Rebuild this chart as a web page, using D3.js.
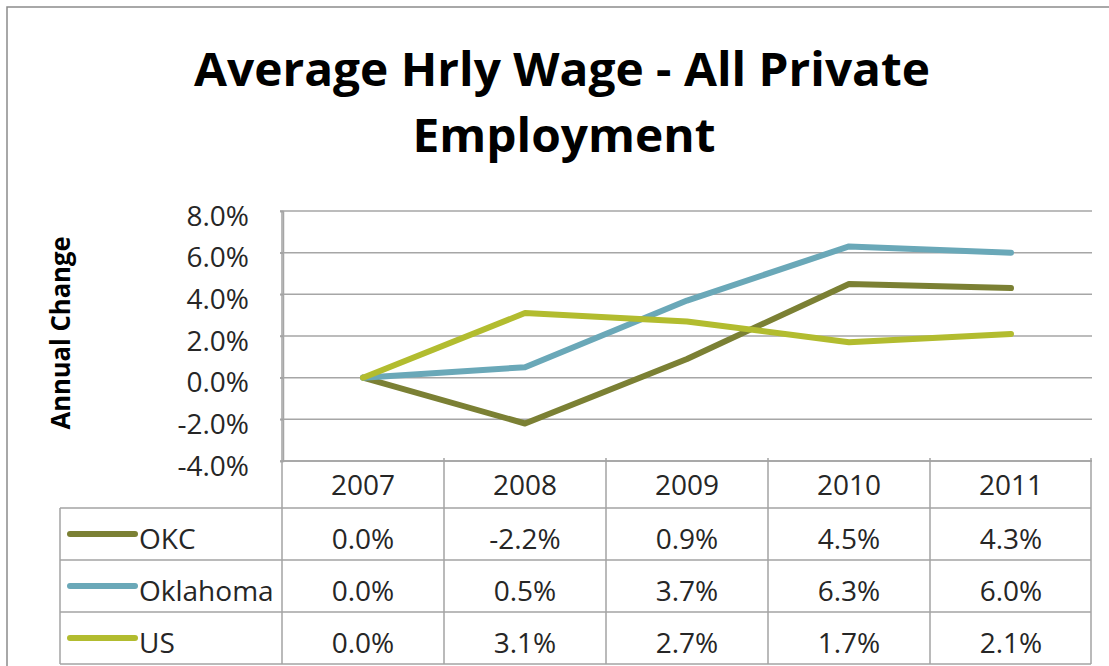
<!DOCTYPE html>
<html>
<head>
<meta charset="utf-8">
<script src="https://cdn.jsdelivr.net/npm/d3@7"></script>
<style>
  html, body { margin: 0; padding: 0; background: #fff; }
  svg { display: block; }
  text { font-family: "Open Sans", "Noto Sans", sans-serif; fill: #262626; }
</style>
</head>
<body>
<svg id="chart" width="1109" height="666"></svg>
<script>
// Annual change in average hourly wage, all private employment (%)
const years = ["2007", "2008", "2009", "2010", "2011"];
const seriesNames = ["OKC", "Oklahoma", "US"];
const okcValues = [0.0, -2.2, 0.9, 4.5, 4.3];
const oklahomaValues = [0.0, 0.5, 3.7, 6.3, 6.0];
const usValues = [0.0, 3.1, 2.7, 1.7, 2.1];
const yTickValues = [-4, -2, 0, 2, 4, 6, 8];
const seriesColors = ["#7b8034", "#6aa8b8", "#b2bc2f"];

const series = seriesNames.map((name, i) => ({
  name,
  values: [okcValues, oklahomaValues, usValues][i],
  color: seriesColors[i]
}));

const svg = d3.select("#chart");
const gridColor = "#a6a6a6";

const plot = { left: 282, right: 1092, top: 211, bottom: 461 };
const x = d3.scaleBand().domain(years).range([plot.left, plot.right]);
const y = d3.scaleLinear().domain([-4, 8]).range([plot.bottom, plot.top]);

// outer frame
svg.append("path")
  .attr("d", "M7,666 L7,7 L1109,7")
  .attr("fill", "none").attr("stroke", "#8c8c8c").attr("stroke-width", 1.5);

// title
const title = svg.append("g").attr("font-weight", "bold").attr("font-size", 46);
const t1 = title.append("text").attr("x", 562).attr("y", 86)
  .attr("text-anchor", "middle").style("fill", "#000")
  .text("Average Hrly Wage - All Private");
const t2 = title.append("text").attr("x", 564).attr("y", 152)
  .attr("text-anchor", "middle").style("fill", "#000")
  .text("Employment");
const w1 = t1.node().getComputedTextLength();
const w2 = t2.node().getComputedTextLength();
const squeeze = 736 / w1;
t1.attr("textLength", w1 * squeeze).attr("lengthAdjust", "spacingAndGlyphs");
t2.attr("textLength", w2 * squeeze).attr("lengthAdjust", "spacingAndGlyphs");

// horizontal gridlines
svg.append("g").selectAll("line").data(yTickValues).join("line")
  .attr("x1", plot.left - 2).attr("x2", plot.right)
  .attr("y1", d => y(d)).attr("y2", d => y(d))
  .attr("stroke", gridColor).attr("stroke-width", 1.5);

// y axis
const yAxis = svg.append("g").attr("transform", `translate(${plot.left + 1},0)`)
  .call(d3.axisLeft(y).tickValues(yTickValues).tickSize(3).tickPadding(31)
    .tickFormat(d => d.toFixed(1) + "%"));
yAxis.select(".domain").attr("stroke", gridColor).attr("stroke-width", 1.5);
yAxis.selectAll(".tick line").attr("stroke", gridColor).attr("stroke-width", 1.5);
yAxis.selectAll(".tick text")
  .attr("font-size", 28).attr("font-family", "Open Sans").attr("dy", 14)
  .style("fill", "#262626");

// y axis title
const yTitle = svg.append("text")
  .attr("transform", "translate(70,333) rotate(-90)")
  .attr("text-anchor", "middle").attr("font-weight", "bold").attr("font-size", 26)
  .style("fill", "#000")
  .text("Annual Change");
yTitle.attr("textLength", 193).attr("lengthAdjust", "spacingAndGlyphs");

// series lines
const line = d3.line()
  .x((d, i) => x(years[i]) + x.bandwidth() / 2)
  .y(d => y(d));
svg.append("g").selectAll("path").data(series).join("path")
  .attr("d", d => line(d.values))
  .attr("fill", "none")
  .attr("stroke", d => d.color)
  .attr("stroke-width", 6)
  .attr("stroke-linejoin", "round")
  .attr("stroke-linecap", "round");

// data table
const rowEdges = [461, 508, 560, 612, 664];
const legendLeft = 60;
const table = svg.append("g");
const tableStroke = "#a3a3a3";

// horizontal rules
table.append("line")
  .attr("x1", plot.left).attr("x2", plot.right).attr("y1", rowEdges[0]).attr("y2", rowEdges[0])
  .attr("stroke", tableStroke).attr("stroke-width", 1.5);
table.selectAll("line.h").data(rowEdges.slice(1)).join("line").attr("class", "h")
  .attr("x1", legendLeft).attr("x2", plot.right - 1)
  .attr("y1", d => d).attr("y2", d => d)
  .attr("stroke", tableStroke).attr("stroke-width", 1.5);

// vertical rules at column boundaries
const colEdges = years.map(yr => x(yr)).concat([plot.right - 1]);
table.selectAll("line.v").data(colEdges).join("line").attr("class", "v")
  .attr("x1", d => d).attr("x2", d => d)
  .attr("y1", (d, i) => (i === 0 ? plot.top : rowEdges[0] - 3)).attr("y2", rowEdges[4])
  .attr("stroke", tableStroke).attr("stroke-width", 1.5);
table.append("line")
  .attr("x1", legendLeft).attr("x2", legendLeft).attr("y1", rowEdges[1]).attr("y2", rowEdges[4])
  .attr("stroke", tableStroke).attr("stroke-width", 1.5);

// header: years
table.selectAll("text.year").data(years).join("text").attr("class", "year")
  .attr("x", d => x(d) + x.bandwidth() / 2).attr("y", 495)
  .attr("text-anchor", "middle").attr("font-size", 28)
  .text(d => d);

// rows: legend key + values
series.forEach((s, r) => {
  const cy = (rowEdges[r + 1] + rowEdges[r + 2]) / 2;
  table.append("line")
    .attr("x1", 70).attr("x2", 135).attr("y1", cy).attr("y2", cy)
    .attr("stroke", s.color).attr("stroke-width", 6).attr("stroke-linecap", "round");
  table.append("text").attr("x", 139).attr("y", cy + 15)
    .attr("font-size", 28).text(s.name);
  table.selectAll(null).data(s.values).join("text")
    .attr("x", (d, i) => x(years[i]) + x.bandwidth() / 2).attr("y", cy + 15)
    .attr("text-anchor", "middle").attr("font-size", 28)
    .text(d => d.toFixed(1) + "%");
});
</script>
</body>
</html>
